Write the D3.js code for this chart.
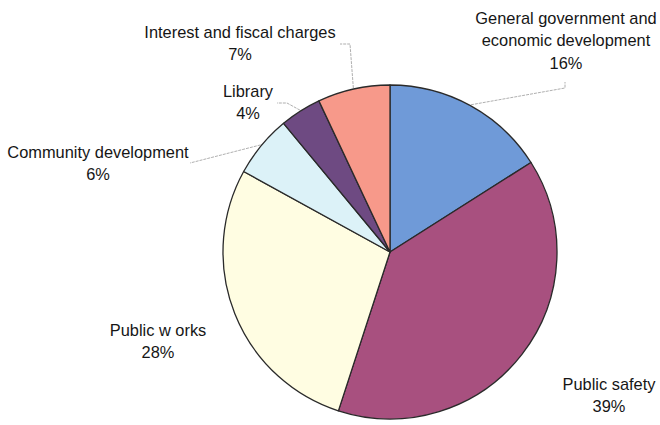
<!DOCTYPE html>
<html>
<head>
<meta charset="utf-8">
<script src="https://cdn.jsdelivr.net/npm/d3@7.9.0/dist/d3.min.js"></script>
<style>
  body { margin: 0; background: #fff; }
  svg { display: block; }
  text { font-family: "Liberation Sans", Arial, sans-serif; font-size: 16.4px; fill: #161616; }
</style>
</head>
<body>
<svg id="chart" width="660" height="425"></svg>
<script>
// expenditure shares by function (percent)
const categories = [
  'General government and economic development',
  'Public safety',
  'Public works',
  'Community development',
  'Library',
  'Interest and fiscal charges'
];
const values = [16, 39, 28, 6, 4, 7];
const colors = ['#6f9ad8', '#a8507f', '#fffde2', '#dcf2f8', '#6e4a82', '#f7998a'];

// label text lines (as printed on the chart)
const labelLines = [
  ['General government and', 'economic development'],
  ['Public safety'],
  ['Public w orks'],
  ['Community development'],
  ['Library'],
  ['Interest and fiscal charges']
];

// where each label block sits and where its leader line bends
const labelLayout = [
  { x: 566, y: 18, leader: [[565, 88], [565, 82]] },
  { x: 609, y: 384, leader: null },
  { x: 158, y: 330, leader: null },
  { x: 98, y: 152, leader: [[190, 163]] },
  { x: 248, y: 91, leader: [[287, 103], [277, 103]] },
  { x: 240, y: 32, leader: [[350, 44], [340, 44]] }
];

const svg = d3.select('#chart');
const cx = 390, cy = 252, radius = 167;
const g = svg.append('g').attr('transform', `translate(${cx},${cy})`);

const pie = d3.pie().sort(null).value((d) => d);
const arcs = pie(values);
const arc = d3.arc().innerRadius(0).outerRadius(radius);
const edgeArc = d3.arc().innerRadius(radius + 1).outerRadius(radius + 1);

g.selectAll('path.slice')
  .data(arcs)
  .join('path')
  .attr('class', 'slice')
  .attr('d', arc)
  .attr('fill', (d, i) => colors[i])
  .attr('stroke', '#2a2a2a')
  .attr('stroke-width', 1.3)
  .attr('stroke-linejoin', 'round');

// leader lines
const line = d3.line();
arcs.forEach((d, i) => {
  const lay = labelLayout[i];
  if (!lay.leader) return;
  const [sx, sy] = edgeArc.centroid(d);
  const pts = [[sx + cx, sy + cy], ...lay.leader];
  svg.append('path')
    .attr('d', line(pts))
    .attr('fill', 'none')
    .attr('stroke', '#9a9a9a')
    .attr('stroke-width', 0.8)
    .attr('stroke-dasharray', '3,1');
});

// labels
arcs.forEach((d, i) => {
  const lay = labelLayout[i];
  const lines = [...labelLines[i], `${values[i]}%`];
  const t = svg.append('text')
    .attr('text-anchor', 'middle')
    .attr('x', lay.x)
    .attr('y', lay.y);
  lines.forEach((s, k) => {
    t.append('tspan')
      .attr('x', lay.x)
      .attr('dy', k === 0 ? '0.35em' : 22.5)
      .text(s);
  });
});
</script>
</body>
</html>
